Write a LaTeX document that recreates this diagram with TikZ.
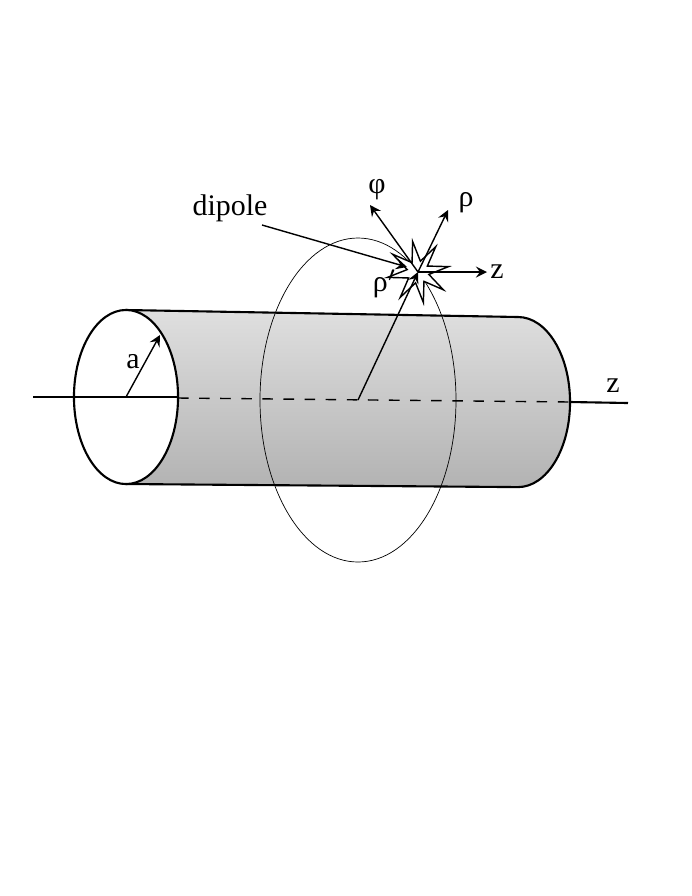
\documentclass[tikz,border=0pt]{standalone}
\usepackage{fontspec}
\setmainfont{Liberation Serif}
\usetikzlibrary{shapes.geometric}
\begin{document}
\begin{tikzpicture}[x=0.01cm,y=-0.01cm,>=stealth,
    lbl/.style={font=\fontsize{8.5}{9}\selectfont, inner sep=0.3pt}]
    \useasboundingbox (0,0) rectangle (692,896);
    % cylinder body
    \shade[top color=gray!25, bottom color=gray!60] (126,310) -- (518,317) arc[start angle=90, end angle=-90, x radius=0.52cm, y radius=0.85cm] -- (126,484) -- cycle;
    \draw[semithick] (126,310) -- (518,317) arc[start angle=90, end angle=-90, x radius=0.52cm, y radius=0.85cm] -- (126,484);
    % left cap
    \node (cap) [draw, semithick, fill=white, ellipse, minimum width=1.04cm, minimum height=1.74cm, inner sep=0] at (126,397) {};
    % axis
    \coordinate (c0) at (126,397);
    \draw[semithick] (33,397) -- (178,397);
    \draw[dashed, thin] (178,398) -- (570,402);
    \draw[semithick] (570,402) -- (628,403);
    \node (z2) [lbl] at (613,386) {z};
    % radius
    \draw[->, thin] (c0) -- (160,335);
    \node (a) [lbl] at (133,362) {a};
    % circle around
    \draw[very thin] (358,400) ellipse [x radius=98, y radius=162];
    % dipole
    \node (star) [draw, thin, fill=white, star, star points=8, star point ratio=2.8, minimum size=0.62cm, inner sep=0, rotate=10] at (418,272) {};
    \draw[->, thin] (358,400) -- (star.center);
    \node (rhop) [lbl] at (385,284) {ρ$'$};
    \coordinate (phi) at (370,205);
    \coordinate (rho) at (448,210);
    \coordinate (zz) at (487,272);
    \draw[->, thin] (star.center) -- (phi);
    \draw[->, thin] (star.center) -- (rho);
    \draw[->, thin] (star.center) -- (zz);
    \node [lbl] at (377,190) {φ};
    \node [lbl] at (466,203) {ρ};
    \node [lbl] at (497,272) {z};
    \node (dip) [lbl] at (230,208) {dipole};
    \draw[->, thin] (262,225) -- (407,267);
\end{tikzpicture}
\end{document}
